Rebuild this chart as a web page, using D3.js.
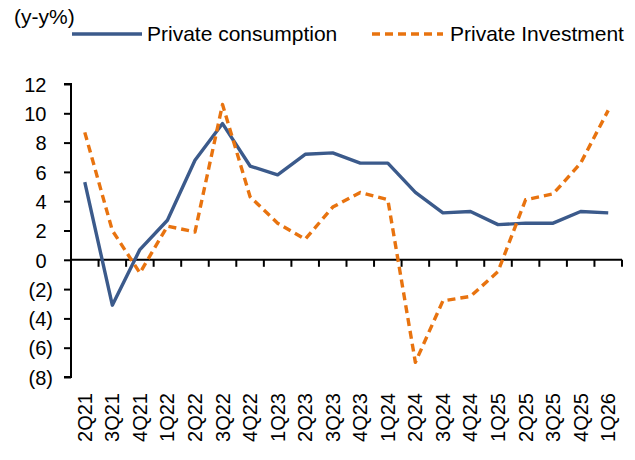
<!DOCTYPE html>
<html><head><meta charset="utf-8">
<script src="https://cdn.jsdelivr.net/npm/d3@7/dist/d3.min.js"></script>
<style>body{margin:0;background:#fff;}svg{display:block;font-family:"Liberation Sans",Arial,sans-serif;}</style>
</head><body>
<svg id="c" width="635" height="460"></svg>
<script>
const categories = ["2Q21","3Q21","4Q21","1Q22","2Q22","3Q22","4Q22","1Q23","2Q23","3Q23","4Q23","1Q24","2Q24","3Q24","4Q24","1Q25","2Q25","3Q25","4Q25","1Q26"];
const consumption = [5.3,-3.1,0.7,2.7,6.8,9.3,6.4,5.8,7.2,7.3,6.6,6.6,4.6,3.2,3.3,2.4,2.5,2.5,3.3,3.2];
const investment = [8.7,2.0,-0.9,2.3,1.9,10.6,4.3,2.5,1.4,3.6,4.6,4.1,-7.0,-2.8,-2.5,-0.8,4.1,4.5,6.6,10.2];
const yTicks = [-8,-6,-4,-2,0,2,4,6,8,10,12];
const seriesNames = ["Private consumption","Private Investment"];
const colors = ["#3B5A8B","#E8730F"];

const svg = d3.select("#c");
const mLeft = 71, mRight = 622, mTop = 84, mBottom = 377;
const x = d3.scaleBand().domain(categories).range([mLeft, mRight]);
const y = d3.scaleLinear().domain([-8, 12]).range([mBottom, mTop]);
const fmt = v => v < 0 ? "(" + Math.abs(v) + ")" : String(v);

// y axis
const ya = svg.append("g").attr("transform", `translate(${mLeft},0)`)
  .call(d3.axisLeft(y).tickValues(yTicks).tickFormat(fmt).tickSize(7).tickPadding(5));
ya.select(".domain").attr("stroke","#000").attr("stroke-width",2).attr("d",`M-7,${y(12)}H0V${y(-8)}H-7`);
ya.selectAll(".tick line").attr("stroke","#000").attr("stroke-width",2);
ya.selectAll(".tick text").attr("font-size",20).attr("fill","#000")
  .attr("font-family","Liberation Sans, Arial, sans-serif")
  .attr("x", d => d < 0 ? -18 : -24.5).attr("dy","0.36em");

// x axis at zero
const xa = svg.append("g").attr("transform", `translate(0,${y(0)})`)
  .call(d3.axisBottom(x).tickSize(0).tickFormat(""));
xa.select(".domain").attr("stroke","#000").attr("stroke-width",2).attr("d",`M${mLeft},0H${mRight}`);
const bounds = categories.map((c,i)=> mLeft + (i+1)*x.bandwidth());
svg.append("g").selectAll("line").data(bounds).join("line")
  .attr("x1",d=>d).attr("x2",d=>d).attr("y1",y(0)).attr("y2",y(0)+7)
  .attr("stroke","#000").attr("stroke-width",2);

// x labels rotated at bottom
svg.append("g").selectAll("text").data(categories).join("text")
  .attr("transform", d => `translate(${x(d)+x.bandwidth()/2+7},393) rotate(-90)`)
  .attr("text-anchor","end").attr("font-size",20).attr("fill","#000").text(d=>d);

// lines
const line = d3.line().x((d,i)=>x(categories[i])+x.bandwidth()/2).y(d=>y(d));
svg.append("path").datum(consumption).attr("d",line).attr("fill","none")
  .attr("stroke",colors[0]).attr("stroke-width",3.4).attr("stroke-linejoin","round");
svg.append("path").datum(investment).attr("d",line).attr("fill","none")
  .attr("stroke",colors[1]).attr("stroke-width",3.4).attr("stroke-dasharray","8,5").attr("stroke-linejoin","round");

// unit label
svg.append("text").attr("x",14).attr("y",24).attr("font-size",21).attr("fill","#000").text("(y-y%)");

// legend
const lg = [{x1:72,x2:142,tx:147},{x1:372,x2:443,tx:450}];
lg.forEach((l,i)=>{
  svg.append("line").attr("x1",l.x1).attr("x2",l.x2).attr("y1",34).attr("y2",34)
    .attr("stroke",colors[i]).attr("stroke-width",3.6).attr("stroke-dasharray", i===1?"8,5":null);
  svg.append("text").attr("x",l.tx).attr("y",41).attr("font-size",21).attr("fill","#000").text(seriesNames[i]);
});
</script>
</body></html>
